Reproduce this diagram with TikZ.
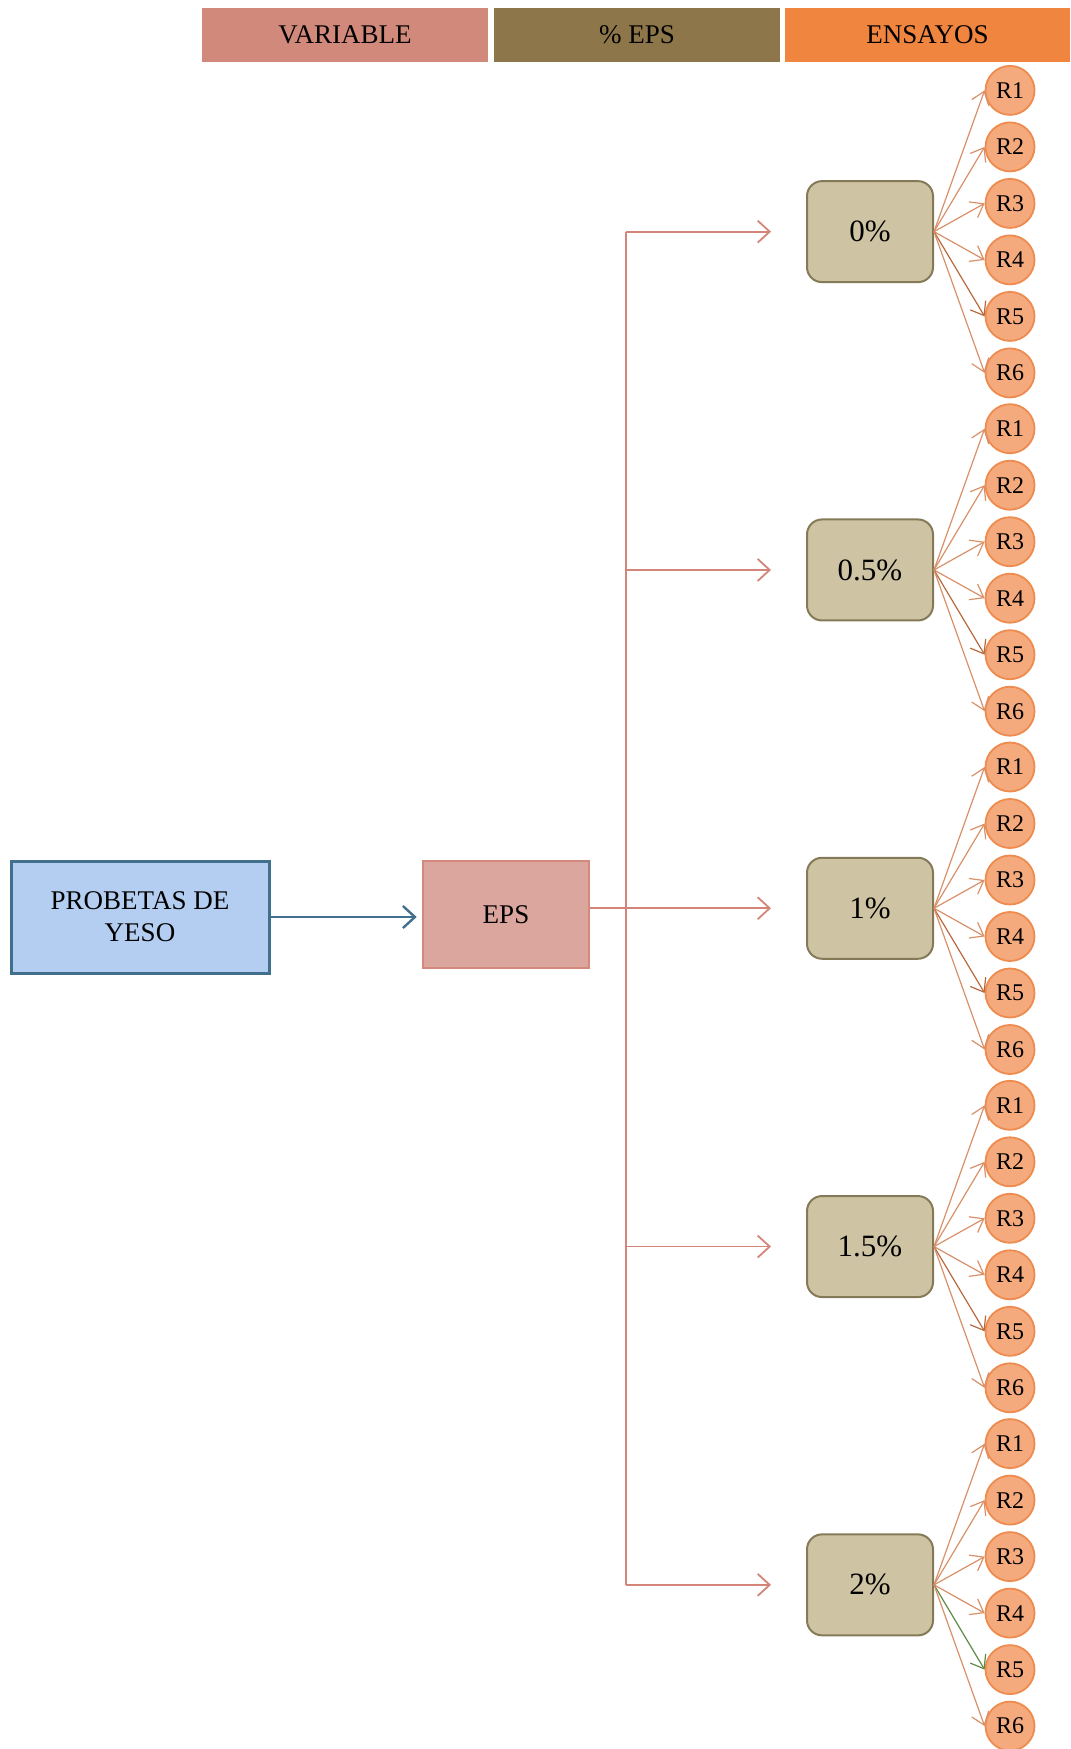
\documentclass[tikz,border=0pt]{standalone}
\usepackage{fontspec}
\setmainfont{Liberation Serif}
\usetikzlibrary{arrows.meta}
\definecolor{hdrA}{HTML}{D0897B}
\definecolor{hdrB}{HTML}{8D7649}
\definecolor{hdrC}{HTML}{F08540}
\definecolor{probFill}{HTML}{B4CEF1}
\definecolor{probLine}{HTML}{41708F}
\definecolor{epsFill}{HTML}{DBA69D}
\definecolor{epsLine}{HTML}{D38A7C}
\definecolor{pctFill}{HTML}{CEC3A3}
\definecolor{pctLine}{HTML}{857A58}
\definecolor{rFill}{HTML}{F5AA7E}
\definecolor{rLine}{HTML}{EE8B4E}
\definecolor{trunkCol}{HTML}{D4857A}
\definecolor{rArrow}{HTML}{D99068}
\definecolor{rArrowDark}{HTML}{B8693C}
\definecolor{rArrowGreen}{HTML}{5E8A45}
\begin{document}
\begin{tikzpicture}[x=0.5pt,y=-0.5pt,
  hdr/.style={minimum width=143pt, minimum height=27pt, inner sep=0pt, font=\fontsize{13.5}{15}\selectfont},
  pct/.style={draw=pctLine, fill=pctFill, line width=1pt, rounded corners=7.5pt, minimum width=63pt, minimum height=50.5pt, inner sep=0pt, font=\fontsize{15.5}{18}\selectfont},
  trial/.style={circle, draw=rLine, fill=rFill, line width=0.9pt, minimum size=24.5pt, inner sep=0pt, font=\fontsize{12}{14}\selectfont},
  tarrow/.style={line width=0.6pt, -{Straight Barb[length=6pt,width=9pt]}},
  barrow/.style={draw=trunkCol, line width=0.9pt, -{Straight Barb[length=6pt,width=11pt]}, shorten >=17.5pt},
  trunkline/.style={draw=trunkCol, line width=0.9pt}
]
\useasboundingbox (0,0) rectangle (1070,1749);
% header
\node[hdr, fill=hdrA] (hv) at (345,35) {VARIABLE};
\node[hdr, fill=hdrB] (he) at (637,35) {\% EPS};
\node[hdr, fill=hdrC, minimum width=142.5pt] (hs) at (927.5,35) {ENSAYOS};
% main boxes
\node[draw=probLine, fill=probFill, line width=1.5pt, minimum width=129pt, minimum height=56pt, inner sep=0pt, align=center, font=\fontsize{13.5}{16}\selectfont] (prob) at (140,917) {PROBETAS DE\\YESO};
\node[draw=epsLine, fill=epsFill, line width=1.3pt, minimum width=83pt, minimum height=53.5pt, inner sep=0pt, font=\fontsize{13.5}{16}\selectfont] (eps) at (506,914.5) {EPS};
\draw[probLine, line width=1.2pt, -{Straight Barb[length=6pt,width=11pt]}, shorten >=2.5pt] (prob.east) -- (prob.east -| eps.west);
% groups
\foreach \k/\lab in {0/0\%,1/0.5\%,2/1\%,3/1.5\%,4/2\%} {
  \pgfmathsetmacro\cy{90.4+338.3*\k+141.25}
  \node[pct] (p\k) at (870,\cy) {\lab};
  \coordinate (t\k) at (626,\cy);
  \ifnum\k=4 \def\fivecol{rArrowGreen}\else\def\fivecol{rArrowDark}\fi
  \foreach \j/\c in {1/rArrow,2/rArrow,3/rArrow,4/rArrow,5/\fivecol,6/rArrow} {
    \pgfmathsetmacro\ry{90.4+338.3*\k+56.5*(\j-1)}
    \node[trial] (r\k\j) at (1010,\ry) {R\j};
    \draw[tarrow, draw=\c] (p\k.east) -- (r\k\j.west);
  }
}
% trunk
\draw[trunkline] (t0) -- (t4);
\draw[trunkline] (eps.east |- p2) -- (t2);
\foreach \k in {0,...,4} {
  \draw[barrow] (t\k) -- (p\k.west);
}
\end{tikzpicture}
\end{document}
